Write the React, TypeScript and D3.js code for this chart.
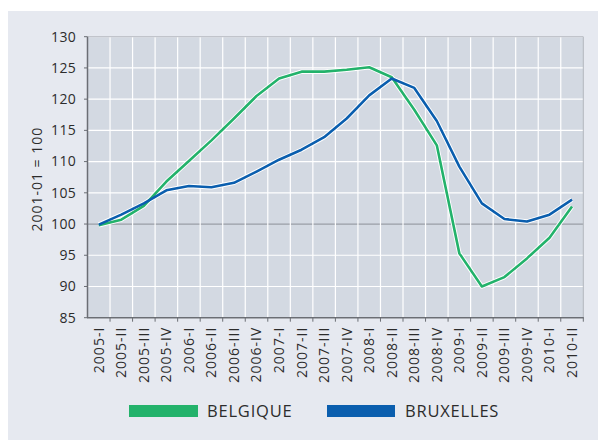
import React from "react";
import * as d3 from "d3";

const categories = ["2005-I","2005-II","2005-III","2005-IV","2006-I","2006-II","2006-III","2006-IV","2007-I","2007-II","2007-III","2007-IV","2008-I","2008-II","2008-III","2008-IV","2009-I","2009-II","2009-III","2009-IV","2010-I","2010-II"];
const belgique = [99.8,100.7,102.9,106.8,110.1,113.4,116.9,120.5,123.3,124.4,124.4,124.7,125.1,123.5,118.3,112.6,95.3,90.0,91.5,94.5,97.8,102.8];
const bruxelles = [99.9,101.5,103.3,105.4,106.1,105.9,106.6,108.4,110.3,111.9,113.9,116.9,120.6,123.3,121.8,116.5,109.2,103.3,100.8,100.4,101.5,103.9];
const yTicks = [85,90,95,100,105,110,115,120,125,130];
const seriesNames = ["BELGIQUE","BRUXELLES"];
const colors = ["#23b26b","#0a5eae"];

const W = 598, H = 443;
const L = 87.5, T = 36.7, R = 583.3, B = 317.7;
const FONT = "'Open Sans', Lato, sans-serif";

export default function App() {
  const x = d3.scaleBand().domain(categories).range([L, R]);
  const y = d3.scaleLinear().domain([85, 130]).range([B, T]);
  const cx = (c: string) => (x(c) as number) + x.bandwidth() / 2;
  const line = d3.line<number>().x((_, i) => cx(categories[i])).y(d => y(d));
  const series = [belgique, bruxelles];
  const bounds = [...categories.map(c => x(c) as number), R];
  return (
    <svg width={W} height={H} style={{ position: "absolute", left: 0, top: 0 }}>
      <rect x={0} y={0} width={W} height={H} fill="#fff" />
      <rect x={8} y={11} width={590} height={429} fill="#e6e9f0" />
      <rect x={L} y={T} width={R - L} height={B - T} fill="#d3d9e2" />
      {yTicks.map(t => (
        <line key={"h" + t} x1={L} x2={R} y1={y(t)} y2={y(t)} stroke={t === 100 ? "#9a9ea6" : "#fff"} strokeWidth={t === 100 ? 1.3 : 1.2} />
      ))}
      {bounds.slice(1, -1).map((b, i) => (
        <line key={"v" + i} x1={b} x2={b} y1={T} y2={B} stroke="#fff" strokeWidth={1.2} />
      ))}
      <line x1={L} x2={R} y1={T} y2={T} stroke="#b3b7bf" strokeWidth={1} />
      <line x1={R} x2={R} y1={T} y2={B} stroke="#b3b7bf" strokeWidth={1} />
      <line x1={L} x2={L} y1={T} y2={B} stroke="#6b6e74" strokeWidth={1.5} />
      <line x1={L - 0.5} x2={R + 0.5} y1={B} y2={B} stroke="#6b6e74" strokeWidth={1.5} />
      {yTicks.map(t => (
        <g key={"yt" + t}>
          <line x1={L - 3.5} x2={L} y1={y(t)} y2={y(t)} stroke="#6b6e74" strokeWidth={1} />
          <text x={76} y={y(t)} dy="0.35em" textAnchor="end" fontSize={14} letterSpacing={0.3} fontFamily={FONT} fill="#2c2c2c">{t}</text>
        </g>
      ))}
      {bounds.slice(1).map((b, i) => (
        <line key={"xt" + i} x1={b} x2={b} y1={B} y2={B + 4} stroke="#6b6e74" strokeWidth={1} />
      ))}
      {categories.map(c => (
        <text key={c} transform={`translate(${cx(c)},${B + 9}) rotate(-90)`} dy="0.35em" textAnchor="end" fontSize={14} letterSpacing={1} fontFamily={FONT} fill="#2c2c2c">{c}</text>
      ))}
      <text transform={`translate(37,${(T + B) / 2 + 2}) rotate(-90)`} dy="0.35em" textAnchor="middle" fontSize={14} letterSpacing={1} fontFamily={FONT} fill="#2c2c2c">2001-01 = 100</text>
      {series.map((s, i) => (
        <path key={"halo" + i} d={line(s) as string} fill="none" stroke="#fff" strokeWidth={4.5} strokeLinejoin="round" />
      ))}
      {series.map((s, i) => (
        <path key={"ln" + i} d={line(s) as string} fill="none" stroke={colors[i]} strokeWidth={2.6} strokeLinejoin="round" />
      ))}
      <rect x={129} y={405} width={69} height={12} fill={colors[0]} />
      <text x={207} y={417} fontSize={16.5} letterSpacing={0.8} fontFamily={FONT} fill="#2c2c2c">{seriesNames[0]}</text>
      <rect x={327} y={405} width={68} height={12} fill={colors[1]} />
      <text x={405} y={417} fontSize={16.5} letterSpacing={0.8} fontFamily={FONT} fill="#2c2c2c">{seriesNames[1]}</text>
    </svg>
  );
}
